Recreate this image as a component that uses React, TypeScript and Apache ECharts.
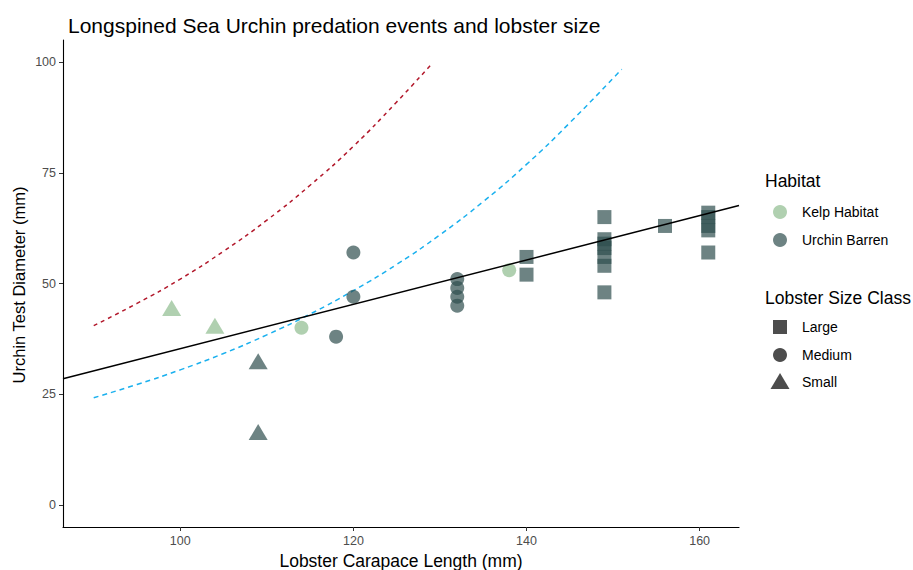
import React, { useEffect, useRef } from "react";
import * as echarts from "echarts";

const xTicks = [100, 120, 140, 160];
const yTicks = [0, 25, 50, 75, 100];

// Points by habitat x size class
const kelpSmallX = [99, 104];
const kelpSmallY = [44, 40];
const barrenSmallX = [109, 109];
const barrenSmallY = [32, 16];
const kelpMediumX = [114, 138];
const kelpMediumY = [40, 53];
const barrenMediumX = [118, 120, 120, 132, 132, 132, 132];
const barrenMediumY = [38, 57, 47, 51, 49, 47, 45];
const barrenLargeX = [140, 140, 149, 149, 149, 149, 149, 149, 149, 156, 161, 161, 161, 161, 161];
const barrenLargeY = [56, 52, 65, 60, 59, 58, 56, 54, 48, 63, 66, 65, 63, 62, 57];

// Fitted linear relation (panel-wide)
const fitX = [86.45, 164.55];
const fitY = [28.5, 67.6];

// Dashed curves
const redX = [90, 95, 100, 105, 110, 115, 120, 125, 129];
const redY = [40.5, 45.5, 51, 57.3, 64.3, 72.2, 81, 91, 99.5];
const blueX = [90, 95, 100, 105, 110, 115, 120, 125, 130, 135, 140, 145, 151];
const blueY = [24.2, 27.2, 30.5, 34.2, 38.4, 43.1, 48.4, 54.3, 61, 68.5, 76.9, 86.3, 98.4];

const KELP = "rgba(143,188,143,0.7)";
const BARREN = "rgba(47,79,79,0.7)";
const FONT = "Liberation Sans, Arial, sans-serif";

const zip = (xs: number[], ys: number[]) => xs.map((x, i) => [x, ys[i]]);

export default function App() {
  const ref = useRef<HTMLDivElement>(null);
  useEffect(() => {
    const chart = echarts.init(ref.current!, null, { renderer: "svg" });
    const scatter = (data: number[][], color: string, symbol: string, size: any, offset: number[] = [0, 0]) => ({
      type: "scatter",
      data,
      symbol,
      symbolSize: size,
      symbolOffset: offset,
      itemStyle: { color, opacity: 1 },
      z: 3,
    });
    const legendText = (x: number, y: number, text: string, size = 14) => ({
      type: "text",
      x,
      y,
      style: { text, fill: "#000", font: `${size}px ${FONT}`, textVerticalAlign: "middle" },
    });
    chart.setOption({
      animation: false,
      textStyle: { fontFamily: FONT },
      title: {
        text: "Longspined Sea Urchin predation events and lobster size",
        left: 63,
        top: 10,
        textStyle: { fontSize: 21, fontWeight: "normal", color: "#000", fontFamily: FONT },
      },
      grid: { left: 63, top: 40, width: 676, height: 487, containLabel: false },
      xAxis: {
        type: "value",
        min: 86.45,
        max: 164.55,
        splitLine: { show: false },
        axisLine: { show: true, onZero: false, lineStyle: { color: "#000", width: 1.1 } },
        axisTick: { show: true, length: 4, lineStyle: { color: "#333" }, customValues: xTicks },
        axisLabel: { color: "#4d4d4d", fontSize: 12.5, margin: 7, customValues: xTicks, fontFamily: FONT },
      },
      yAxis: {
        type: "value",
        min: -5,
        max: 105,
        splitLine: { show: false },
        axisLine: { show: true, onZero: false, lineStyle: { color: "#000", width: 1.1 } },
        axisTick: { show: true, length: 4, lineStyle: { color: "#333" }, customValues: yTicks },
        axisLabel: { color: "#4d4d4d", fontSize: 12.5, margin: 7, customValues: yTicks, fontFamily: FONT },
      },
      series: [
        {
          type: "line",
          data: zip(redX, redY),
          smooth: true,
          showSymbol: false,
          lineStyle: { color: "#b2182b", width: 1.5, type: [4, 4] },
          z: 2,
        },
        {
          type: "line",
          data: zip(blueX, blueY),
          smooth: true,
          showSymbol: false,
          lineStyle: { color: "#1ab0ee", width: 1.5, type: [5, 4] },
          z: 2,
        },
        scatter(zip(kelpSmallX, kelpSmallY), KELP, "triangle", [19, 16], [0, -2]),
        scatter(zip(barrenSmallX, barrenSmallY), BARREN, "triangle", [19, 16], [0, -2]),
        scatter(zip(kelpMediumX, kelpMediumY), KELP, "circle", 14),
        scatter(zip(barrenMediumX, barrenMediumY), BARREN, "circle", 14),
        scatter(zip(barrenLargeX, barrenLargeY), BARREN, "rect", 14),
        {
          type: "line",
          data: zip(fitX, fitY),
          showSymbol: false,
          lineStyle: { color: "#000", width: 1.5 },
          z: 4,
        },
      ],
      graphic: [
        {
          type: "text",
          x: 401,
          y: 561,
          style: { text: "Lobster Carapace Length (mm)", fill: "#000", font: `17.5px ${FONT}`, textAlign: "center", textVerticalAlign: "middle" },
        },
        {
          type: "text",
          x: 19,
          y: 285,
          rotation: Math.PI / 2,
          style: { text: "Urchin Test Diameter (mm)", fill: "#000", font: `16.5px ${FONT}`, textAlign: "center", textVerticalAlign: "middle" },
        },
        legendText(765, 181, "Habitat", 17.5),
        { type: "circle", shape: { cx: 780, cy: 212, r: 7 }, style: { fill: KELP } },
        legendText(802, 212, "Kelp Habitat"),
        { type: "circle", shape: { cx: 780, cy: 240, r: 7 }, style: { fill: BARREN } },
        legendText(802, 240, "Urchin Barren"),
        legendText(765, 298, "Lobster Size Class", 17.5),
        { type: "rect", shape: { x: 773, y: 320, width: 14, height: 14 }, style: { fill: "#4d4d4d" } },
        legendText(802, 327, "Large"),
        { type: "circle", shape: { cx: 780, cy: 355, r: 7 }, style: { fill: "#4d4d4d" } },
        legendText(802, 355, "Medium"),
        { type: "polygon", shape: { points: [[780, 373], [770.5, 389], [789.5, 389]] }, style: { fill: "#4d4d4d" } },
        legendText(802, 382, "Small"),
      ],
    });
    return () => chart.dispose();
  }, []);
  return <div ref={ref} style={{ width: 913, height: 570, position: "absolute", left: 0, top: 0 }} />;
}
